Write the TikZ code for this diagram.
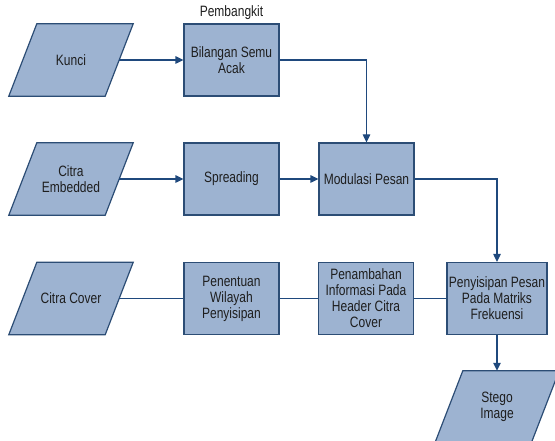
\documentclass[tikz,border=0pt]{standalone}
\usepackage{fontspec}
\setmainfont{Liberation Sans}[FakeStretch=0.8]
\usepackage{tikz}
\usetikzlibrary{arrows.meta, positioning, backgrounds}
\definecolor{boxfill}{RGB}{157,179,209}
\definecolor{boxline}{RGB}{44,77,117}
\definecolor{flowline}{RGB}{31,73,125}
\definecolor{txtgray}{RGB}{30,30,30}

\begin{document}
\begin{tikzpicture}[x=1pt, y=-1pt,
    font=\fontsize{15}{16}\selectfont, text=txtgray,
    shapeline/.style={draw=boxline, fill=boxfill, line width=1.2pt},
    procbox/.style={shapeline, minimum width=95pt, minimum height=72pt, align=center, inner sep=2pt},
    databox/.style={minimum width=96pt, minimum height=72pt, align=center, inner sep=0pt,
        append after command={\pgfextra{\begin{pgfonlayer}{background}
            \draw[shapeline] ([xshift=-14pt]\tikzlastnode.south west) -- ([xshift=-14pt]\tikzlastnode.south east)
                -- ([xshift=14pt]\tikzlastnode.north east) -- ([xshift=14pt]\tikzlastnode.north west) -- cycle;
        \end{pgfonlayer}}}},
    flow/.style={draw=flowline, line width=1.2pt},
    flowarr/.style={flow, -{Triangle[length=8pt, width=7.5pt]}}]
    \clip (0,0) rectangle (555,441);

    % Inputs
    \node[databox] at (71,60) (kunci) {Kunci};
    \node[databox] at (71,179) (embed) {Citra\\Embedded};
    \node[databox] at (71,298.5) (cover) {Citra Cover};

    % Process boxes
    \node[procbox] at (231.5,60) (bilangan) {Bilangan Semu\\Acak};
    \node[above=0pt of bilangan] (pembangkit) {Pembangkit};
    \node[procbox] at (231.5,179) (spreading) {Spreading};
    \node[procbox] at (366.5,179) (modulasi) {Modulasi Pesan};
    \node[procbox] at (231.5,298.5) (penentuan) {Penentuan\\Wilayah\\Penyisipan};
    \node[procbox] at (366,298.5) (penambahan) {Penambahan\\Informasi Pada\\Header Citra\\Cover};
    \node[procbox] at (497,298.5) (penyisipan) {Penyisipan Pesan\\Pada Matriks\\Frekuensi};

    % Output
    \node[databox] at (497,407) (stego) {Stego\\Image};

    % Connectors
    \draw[flowarr] (kunci) -- (bilangan);
    \draw[flowarr] (bilangan.east) -| (modulasi.north);
    \draw[flowarr] (embed) -- (spreading);
    \draw[flowarr] (spreading) -- (modulasi);
    \draw[flowarr] (modulasi.east) -| (penyisipan.north);
    \draw[flow] (cover) -- (penentuan);
    \draw[flow] (penentuan) -- (penambahan);
    \draw[flow] (penambahan) -- (penyisipan);
    \draw[flowarr] (penyisipan) -- (stego);
\end{tikzpicture}
\end{document}
